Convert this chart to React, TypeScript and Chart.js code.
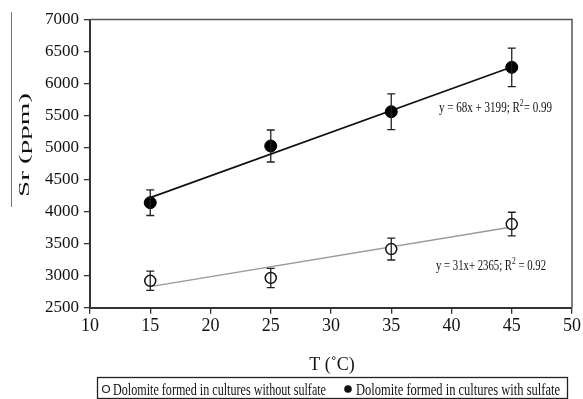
import React, { useEffect, useRef } from "react";
import { Chart, registerables } from "chart.js";

Chart.register(...registerables);

const temps = [15, 25, 35, 45];
const srWithout = [2920, 2965, 3415, 3805];
const errWithout = [150, 150, 170, 185];
const srWith = [4140, 5025, 5560, 6253];
const errWith = [200, 250, 280, 300];
const trendX = [15, 45];
const trendWith = [4219, 6259];
const trendWithout = [2830, 3760];
const xTicks = [10, 15, 20, 25, 30, 35, 40, 45, 50];
const yTicks = [2500, 3000, 3500, 4000, 4500, 5000, 5500, 6000, 6500, 7000];

const labelWithout = "Dolomite formed in cultures without sulfate";
const labelWith = "Dolomite formed in cultures with sulfate";
const eqWith = ["y = 68x + 3199; R", "2", "= 0.99"];
const eqWithout = ["y = 31x+ 2365; R", "2", " = 0.92"];

const FF = "'Liberation Serif', 'Times New Roman', serif";

function fitText(ctx: CanvasRenderingContext2D, text: string, left: number, width: number, y: number, size: number) {
  ctx.font = `${size}px ${FF}`;
  const w = ctx.measureText(text).width;
  ctx.save();
  ctx.translate(left, y);
  ctx.scale(width / w, 1);
  ctx.textAlign = "left";
  ctx.textBaseline = "alphabetic";
  ctx.fillText(text, 0, 0);
  ctx.restore();
}

function fitEq(ctx: CanvasRenderingContext2D, parts: string[], left: number, width: number, y: number, size: number) {
  const sup = size * 0.7;
  ctx.font = `${size}px ${FF}`;
  const w0 = ctx.measureText(parts[0]).width;
  const w2 = ctx.measureText(parts[2]).width;
  ctx.font = `${sup}px ${FF}`;
  const w1 = ctx.measureText(parts[1]).width;
  const total = w0 + w1 + w2;
  ctx.save();
  ctx.translate(left, y);
  ctx.scale(width / total, 1);
  ctx.textAlign = "left";
  ctx.textBaseline = "alphabetic";
  ctx.font = `${size}px ${FF}`;
  ctx.fillText(parts[0], 0, 0);
  ctx.font = `${sup}px ${FF}`;
  ctx.fillText(parts[1], w0, -size * 0.38);
  ctx.font = `${size}px ${FF}`;
  ctx.fillText(parts[2], w0 + w1, 0);
  ctx.restore();
}

const decorPlugin = {
  id: "decor",
  afterDatasetsDraw(chart: any) {
    const ctx: CanvasRenderingContext2D = chart.ctx;
    const xs = chart.scales.x;
    const ys = chart.scales.y;
    const sets = [
      { vals: srWithout, errs: errWithout },
      { vals: srWith, errs: errWith },
    ];
    ctx.save();
    ctx.strokeStyle = "#222";
    ctx.lineWidth = 1.3;
    sets.forEach((s) => {
      temps.forEach((t, i) => {
        const px = xs.getPixelForValue(t);
        const top = ys.getPixelForValue(s.vals[i] + s.errs[i]);
        const bot = ys.getPixelForValue(s.vals[i] - s.errs[i]);
        ctx.beginPath();
        ctx.moveTo(px, top);
        ctx.lineTo(px, bot);
        ctx.moveTo(px - 4, top);
        ctx.lineTo(px + 4, top);
        ctx.moveTo(px - 4, bot);
        ctx.lineTo(px + 4, bot);
        ctx.stroke();
      });
    });
    ctx.restore();
  },
  afterDraw(chart: any) {
    const ctx: CanvasRenderingContext2D = chart.ctx;
    const a = chart.chartArea;
    ctx.save();
    ctx.strokeStyle = "#555";
    ctx.lineWidth = 1.5;
    ctx.beginPath();
    ctx.moveTo(a.left, a.top);
    ctx.lineTo(a.right, a.top);
    ctx.lineTo(a.right, a.bottom);
    ctx.stroke();

    ctx.fillStyle = "#111";
    fitEq(ctx, eqWith, 439, 113, 112, 15);
    fitEq(ctx, eqWithout, 436, 110, 270, 15);

    ctx.font = `18px ${FF}`;
    ctx.textAlign = "center";
    ctx.textBaseline = "alphabetic";
    ctx.fillText("T (˚C)", 332, 370);

    ctx.save();
    ctx.translate(29, 145);
    ctx.rotate(-Math.PI / 2);
    ctx.font = `15px ${FF}`;
    const tw = ctx.measureText("Sr (ppm)").width;
    ctx.scale(104 / tw, 1);
    ctx.textAlign = "center";
    ctx.textBaseline = "alphabetic";
    ctx.fillText("Sr (ppm)", 0, 0);
    ctx.restore();

    ctx.strokeStyle = "#777";
    ctx.lineWidth = 1;
    ctx.beginPath();
    ctx.moveTo(11.5, 12);
    ctx.lineTo(11.5, 207);
    ctx.stroke();

    ctx.strokeStyle = "#222";
    ctx.lineWidth = 1.3;
    ctx.strokeRect(97.5, 377.5, 470, 21);
    ctx.beginPath();
    ctx.lineWidth = 1.2;
    ctx.arc(106, 389, 3.5, 0, Math.PI * 2);
    ctx.stroke();
    ctx.beginPath();
    ctx.arc(348, 389, 3.8, 0, Math.PI * 2);
    ctx.fill();
    fitText(ctx, labelWithout, 113, 213, 395, 17);
    fitText(ctx, labelWith, 356, 204, 395, 17);
    ctx.restore();
  },
};

export default function App() {
  const ref = useRef<HTMLCanvasElement>(null);
  useEffect(() => {
    if (!ref.current) return;
    const chart = new Chart(ref.current, {
      type: "scatter",
      data: {
        datasets: [
          {
            label: labelWithout,
            data: temps.map((t, i) => ({ x: t, y: srWithout[i] })),
            pointStyle: "circle",
            pointRadius: 5.5,
            pointBorderWidth: 1.5,
            pointBorderColor: "#111",
            pointBackgroundColor: "#ffffff",
            showLine: false,
          },
          {
            label: labelWith,
            data: temps.map((t, i) => ({ x: t, y: srWith[i] })),
            pointStyle: "circle",
            pointRadius: 6,
            pointBorderWidth: 1,
            pointBorderColor: "#000",
            pointBackgroundColor: "#000",
            showLine: false,
          },
          {
            label: "trend with",
            data: trendX.map((t, i) => ({ x: t, y: trendWith[i] })),
            showLine: true,
            borderColor: "#111",
            borderWidth: 1.7,
            pointRadius: 0,
          },
          {
            label: "trend without",
            data: trendX.map((t, i) => ({ x: t, y: trendWithout[i] })),
            showLine: true,
            borderColor: "#999",
            borderWidth: 1.3,
            pointRadius: 0,
          },
        ],
      },
      options: {
        responsive: false,
        animation: false,
        layout: { padding: { top: 19.5, right: 11, left: 0, bottom: 0 } },
        plugins: {
          legend: { display: false },
          tooltip: { enabled: false },
          title: { display: false },
        },
        scales: {
          x: {
            type: "linear",
            min: 10,
            max: 50,
            afterBuildTicks: (s: any) => {
              s.ticks = xTicks.map((v) => ({ value: v }));
            },
            afterFit: (s: any) => {
              s.height = 91.3;
            },
            ticks: {
              color: "#111",
              font: { family: FF, size: 18 },
              padding: 2,
              maxRotation: 0,
              callback: (v: any) => String(v),
            },
            grid: {
              display: true,
              drawOnChartArea: false,
              drawTicks: true,
              tickLength: 6,
              color: "#333",
              lineWidth: 1.3,
            },
            border: { display: true, color: "#333", width: 2 },
          },
          y: {
            type: "linear",
            min: 2500,
            max: 7000,
            afterBuildTicks: (s: any) => {
              s.ticks = yTicks.map((v) => ({ value: v }));
            },
            afterFit: (s: any) => {
              s.width = 90;
            },
            ticks: {
              color: "#111",
              font: { family: FF, size: 17 },
              padding: 5,
              callback: (v: any) => String(v),
            },
            grid: {
              display: true,
              drawOnChartArea: false,
              drawTicks: true,
              tickLength: 6,
              color: "#333",
              lineWidth: 1.3,
            },
            border: { display: true, color: "#333", width: 2 },
          },
        },
      },
      plugins: [decorPlugin],
    } as any);
    return () => chart.destroy();
  }, []);
  return (
    <div style={{ position: "absolute", left: 0, top: 0, width: 583, height: 399, background: "#fff" }}>
      <canvas ref={ref} width={583} height={399} style={{ display: "block" }} />
    </div>
  );
}
